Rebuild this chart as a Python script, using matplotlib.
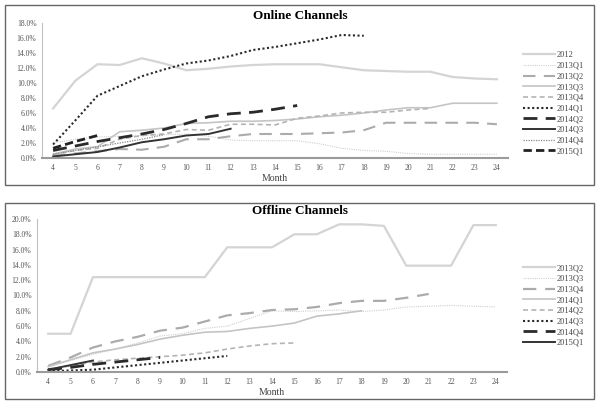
import matplotlib
matplotlib.use('Agg')
import matplotlib.pyplot as plt
from matplotlib.patches import Rectangle
from matplotlib.ticker import FuncFormatter

plt.rcParams['font.family'] = ['Liberation Serif', 'DejaVu Serif']

months = list(range(4, 25))

# online channels (%), one list per cohort, starting at month 4
online = {
    '2012': [6.6, 10.3, 12.5, 12.4, 13.3, 12.6, 11.7, 11.9, 12.2, 12.4, 12.5,
             12.5, 12.5, 12.1, 11.7, 11.6, 11.5, 11.5, 10.8, 10.6, 10.5],
    '2013Q1': [2.0, 2.5, 2.8, 2.9, 3.0, 3.1, 3.2, 2.9, 2.4, 2.3, 2.3, 2.3,
               1.9, 1.3, 1.0, 0.9, 0.6, 0.5, 0.5, 0.5, 0.5],
    '2013Q2': [0.3, 0.6, 0.9, 1.2, 1.1, 1.5, 2.5, 2.5, 2.9, 3.2, 3.2, 3.2,
               3.3, 3.4, 3.7, 4.7, 4.7, 4.7, 4.7, 4.7, 4.5],
    '2013Q3': [0.5, 1.2, 1.5, 3.5, 3.7, 4.0, 4.6, 4.7, 4.9, 4.9, 5.0, 5.2,
               5.5, 5.7, 6.0, 6.4, 6.7, 6.7, 7.3, 7.3, 7.3],
    '2013Q4': [0.5, 1.0, 1.3, 2.5, 3.0, 3.2, 3.8, 3.7, 4.5, 4.5, 4.4, 5.3,
               5.6, 6.0, 6.1, 6.1, 6.4, 6.6],
    '2014Q1': [1.8, 5.0, 8.3, 9.6, 10.9, 11.8, 12.6, 13.0, 13.6, 14.4, 14.8,
               15.3, 15.8, 16.4, 16.3],
    '2014Q2': [1.0, 1.6, 2.2, 2.7, 3.2, 3.8, 4.6, 5.5, 5.9, 6.1, 6.5, 7.0],
    '2014Q3': [0.2, 0.5, 0.8, 1.4, 2.1, 2.5, 3.0, 3.2, 3.9],
    '2014Q4': [0.5, 1.0, 1.5, 2.0, 2.5, 3.1],
    '2015Q1': [1.3, 2.2, 3.0],
}

# offline channels (%)
offline = {
    '2013Q2': [5.0, 5.0, 12.4, 12.4, 12.4, 12.4, 12.4, 12.4, 16.3, 16.3, 16.3,
               18.0, 18.0, 19.3, 19.3, 19.1, 13.9, 13.9, 13.9, 19.2, 19.2],
    '2013Q3': [0.7, 1.5, 2.3, 3.0, 3.8, 4.7, 5.0, 5.7, 6.0, 7.0, 8.0, 7.9,
               8.0, 8.1, 7.9, 8.1, 8.5, 8.6, 8.7, 8.6, 8.5],
    '2013Q4': [0.8, 1.9, 3.2, 4.0, 4.6, 5.4, 5.8, 6.6, 7.4, 7.7, 8.1, 8.2,
               8.5, 9.0, 9.3, 9.3, 9.7, 10.2],
    '2014Q1': [0.7, 1.6, 2.5, 3.0, 3.6, 4.3, 4.8, 5.2, 5.3, 5.7, 6.0, 6.4,
               7.3, 7.6, 8.0],
    '2014Q2': [0.4, 0.8, 1.3, 1.6, 1.8, 2.0, 2.2, 2.5, 3.0, 3.4, 3.7, 3.8],
    '2014Q3': [0.1, 0.2, 0.3, 0.6, 0.9, 1.2, 1.5, 1.8, 2.1],
    '2014Q4': [0.3, 0.6, 1.0, 1.3, 1.6, 1.9],
    '2015Q1': [0.3, 0.9, 1.5],
}

# line look per cohort: color, width, dash pattern (None = solid)
styles_online = {
    '2012': ('#d4d4d4', 1.6, None),
    '2013Q1': ('#cfcfcf', 0.8, (1, 1)),
    '2013Q2': ('#ababab', 1.5, (6, 4)),
    '2013Q3': ('#c4c4c4', 1.2, None),
    '2013Q4': ('#b4b4b4', 1.2, (3, 2)),
    '2014Q1': ('#2a2a2a', 1.5, (1, 1.2)),
    '2014Q2': ('#2a2a2a', 2.0, (5, 3)),
    '2014Q3': ('#333333', 1.4, None),
    '2014Q4': ('#8a8a8a', 0.9, (1, 1)),
    '2015Q1': ('#222222', 2.0, (3, 1.5)),
}
styles_offline = {
    '2013Q2': ('#d4d4d4', 1.6, None),
    '2013Q3': ('#cfcfcf', 0.8, (1, 1)),
    '2013Q4': ('#ababab', 1.6, (6, 4)),
    '2014Q1': ('#c4c4c4', 1.2, None),
    '2014Q2': ('#b4b4b4', 1.2, (3, 2)),
    '2014Q3': ('#2a2a2a', 1.5, (1, 1.2)),
    '2014Q4': ('#2a2a2a', 2.0, (5, 3)),
    '2015Q1': ('#333333', 1.4, None),
}


def draw_panel(fig, rect, data, styles, ymax, title, title_y, legend_y):
    ax = fig.add_axes(rect)
    for name, vals in data.items():
        color, lw, dash = styles[name]
        line, = ax.plot(months[:len(vals)], vals, color=color, lw=lw, label=name)
        if dash is not None:
            line.set_dashes(dash)
    ax.set_xlim(3.5, 24.5)
    ax.set_ylim(0, ymax)
    ax.set_xticks(months)
    ax.set_yticks(range(0, ymax + 1, 2))
    ax.yaxis.set_major_formatter(FuncFormatter(lambda v, p: '{:.1f}%'.format(v)))
    ax.tick_params(length=0, labelsize=5.5, colors='#555555', pad=4)
    for s in ['top', 'right']:
        ax.spines[s].set_visible(False)
    ax.spines['left'].set_color('#c0c0c0')
    ax.spines['bottom'].set_color('#9a9a9a')
    ax.spines['bottom'].set_linewidth(1.5)
    ax.set_xlabel('Month', fontsize=7, color='#444444', labelpad=2)
    fig.text(0.5, title_y, title, ha='center', va='center',
             fontsize=9.5, fontweight='bold')
    ax.legend(loc='upper left', bbox_to_anchor=(0.865, legend_y),
              bbox_transform=fig.transFigure, frameon=False, fontsize=6,
              handlelength=3.8, handletextpad=0.2, labelspacing=0.32,
              borderpad=0, labelcolor='#444444')
    return ax


fig = plt.figure(figsize=(6, 4.04), dpi=100)

# panel borders
for y0, y1 in [(5, 185), (203, 399)]:
    fig.add_artist(Rectangle((5 / 600, 1 - y1 / 404), 589 / 600, (y1 - y0) / 404,
                             transform=fig.transFigure, fill=False,
                             edgecolor='#666666', lw=1))

draw_panel(fig, [42 / 600, 1 - 158 / 404, 466 / 600, 135 / 404],
           online, styles_online, 18, 'Online Channels', 1 - 16 / 404, 1 - 47 / 404)
draw_panel(fig, [37 / 600, 1 - 372 / 404, 470 / 600, 153 / 404],
           offline, styles_offline, 20, 'Offline Channels', 1 - 211 / 404, 1 - 260 / 404)

fig.savefig('out.png', dpi=100)
